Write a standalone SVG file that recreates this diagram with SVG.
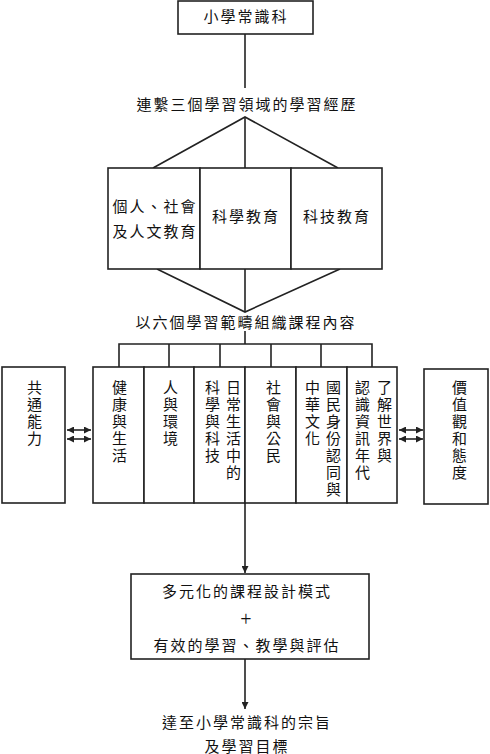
<svg xmlns="http://www.w3.org/2000/svg" width="490" height="754" viewBox="0 0 490 754">
<style>
.bx{fill:#fff;stroke:#222;stroke-width:1.6}
.ln{fill:none;stroke:#222;stroke-width:1.6}
.t{font-family:"Liberation Serif","Noto Sans CJK TC",serif;font-size:15px;letter-spacing:2px;fill:#111;text-anchor:middle;dominant-baseline:central}
.v{font-family:"Liberation Serif","Noto Sans CJK TC",serif;font-size:15px;letter-spacing:2px;fill:#111;writing-mode:vertical-rl}
</style>
<defs>
<marker id="ah" viewBox="0 0 10 10" refX="10" refY="5" markerWidth="7" markerHeight="7" markerUnits="userSpaceOnUse" orient="auto-start-reverse">
<path d="M0,0 L10,5 L0,10 z" fill="#222"/>
</marker>
</defs>
<g id="connectors">
<line class="ln" x1="245" y1="34" x2="245" y2="88"/>
<polyline class="ln" points="153,168 245,117 338,168"/>
<line class="ln" x1="245" y1="117" x2="245" y2="168"/>
<polyline class="ln" points="157,269 245,312 340,269"/>
<line class="ln" x1="245" y1="269" x2="245" y2="312"/>
<line class="ln" x1="245" y1="331" x2="245" y2="344"/>
<polyline class="ln" points="119,367 119,344 372,344 372,367"/>
<line class="ln" x1="169" y1="344" x2="169" y2="367"/>
<line class="ln" x1="220" y1="344" x2="220" y2="367"/>
<line class="ln" x1="271" y1="344" x2="271" y2="367"/>
<line class="ln" x1="321" y1="344" x2="321" y2="367"/>
<line class="ln" x1="245" y1="503" x2="245" y2="573" marker-end="url(#ah)"/>
<line class="ln" x1="245" y1="659" x2="245" y2="709" marker-end="url(#ah)"/>
<line class="ln" x1="67" y1="430" x2="91" y2="430" stroke-width="1.3" marker-start="url(#ah)" marker-end="url(#ah)"/>
<line class="ln" x1="67" y1="439" x2="91" y2="439" stroke-width="1.3" marker-start="url(#ah)" marker-end="url(#ah)"/>
<line class="ln" x1="399" y1="430" x2="423" y2="430" stroke-width="1.3" marker-start="url(#ah)" marker-end="url(#ah)"/>
<line class="ln" x1="399" y1="439" x2="423" y2="439" stroke-width="1.3" marker-start="url(#ah)" marker-end="url(#ah)"/>
</g>
<g id="top">
<rect class="bx" x="178" y="1" width="135" height="33"/>
<text class="t" x="246" y="17">小學常識科</text>
</g>
<g id="label1">
<text class="t" x="247" y="105">連繫三個學習領域的學習經歷</text>
</g>
<g id="areas">
<rect class="bx" x="108" y="168" width="92" height="101"/>
<rect class="bx" x="200" y="168" width="91" height="101"/>
<rect class="bx" x="291" y="168" width="91" height="101"/>
<text class="t" x="155" y="207">個人、社會</text>
<text class="t" x="155" y="232">及人文教育</text>
<text class="t" x="246" y="217">科學教育</text>
<text class="t" x="337" y="217">科技教育</text>
</g>
<g id="label2">
<text class="t" x="246" y="323">以六個學習範疇組織課程內容</text>
</g>
<g id="strands">
<rect class="bx" x="93" y="367" width="51" height="136"/>
<rect class="bx" x="144" y="367" width="50" height="136"/>
<rect class="bx" x="194" y="367" width="51" height="136"/>
<rect class="bx" x="245" y="367" width="51" height="136"/>
<rect class="bx" x="296" y="367" width="51" height="136"/>
<rect class="bx" x="347" y="367" width="50" height="136"/>
<text class="v" x="118" y="380">健康與生活</text>
<text class="v" x="169" y="380">人與環境</text>
<text class="v" x="232" y="380">日常生活中的</text>
<text class="v" x="211" y="380">科學與科技</text>
<text class="v" x="272" y="380">社會與公民</text>
<text class="v" x="332" y="380">國民身份認同與</text>
<text class="v" x="311" y="380">中華文化</text>
<text class="v" x="383" y="380">了解世界與</text>
<text class="v" x="361" y="380">認識資訊年代</text>
</g>
<g id="generic">
<rect class="bx" x="2" y="367" width="63" height="136"/>
<text class="v" x="33" y="380">共通能力</text>
</g>
<g id="values">
<rect class="bx" x="424" y="369" width="64" height="135"/>
<text class="v" x="458" y="380">價值觀和態度</text>
</g>
<g id="design">
<rect class="bx" x="131" y="574" width="238" height="85"/>
<text class="t" x="247" y="592">多元化的課程設計模式</text>
<text class="t" x="247" y="619" style="font-weight:100;font-size:20px">+</text>
<text class="t" x="247" y="646">有效的學習、教學與評估</text>
</g>
<g id="goal">
<text class="t" x="247" y="723">達至小學常識科的宗旨</text>
<text class="t" x="247" y="747">及學習目標</text>
</g>
</svg>
